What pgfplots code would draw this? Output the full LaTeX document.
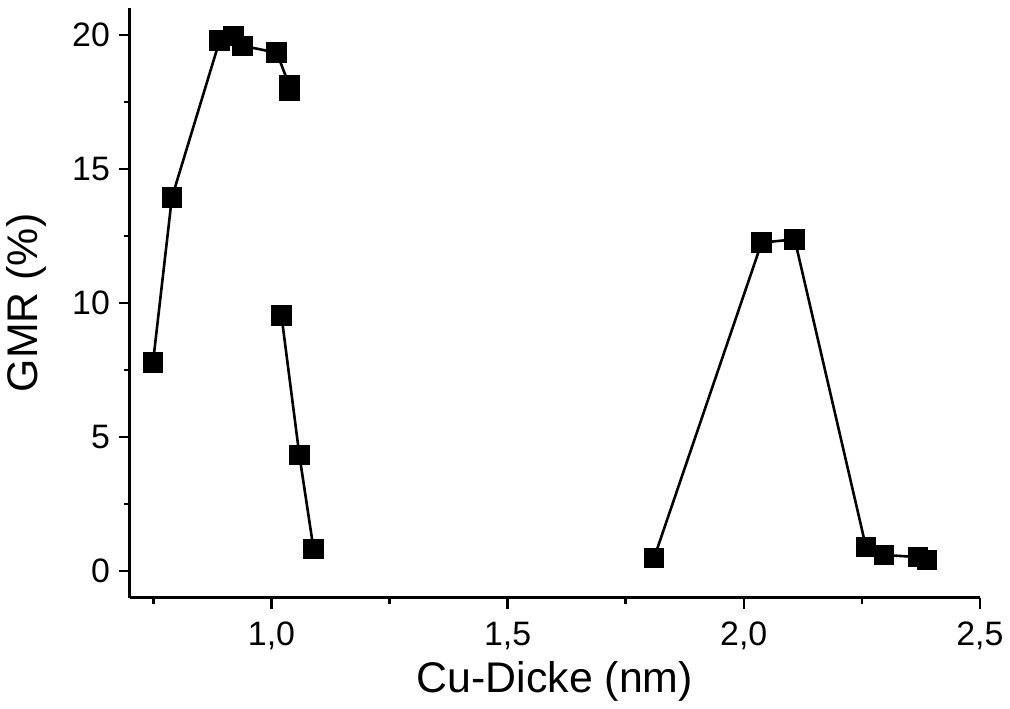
\documentclass[border=0pt]{standalone}
\usepackage{fontspec}
\setmainfont{Liberation Sans}
\usepackage{pgfplots}
\pgfplotsset{compat=1.18}

\begin{document}
\begin{tikzpicture}
\begin{axis}[
    scale only axis,
    width=426.5pt,
    height=296pt,
    xmin=0.7, xmax=2.5,
    ymin=-1, ymax=21,
    axis x line=bottom,
    axis y line=left,
    axis line style={-, line width=1.5pt},
    tick align=outside,
    major tick length=5.5pt,
    minor tick length=3pt,
    every tick/.style={black, line width=1.2pt},
    xtick={1,1.5,2,2.5},
    xticklabels={{1,0},{1,5},{2,0},{2,5}},
    minor xtick={0.75,1.25,1.75,2.25},
    ytick={0,5,10,15,20},
    minor ytick={2.5,7.5,12.5,17.5},
    /pgf/number format/assume math mode=true,
    ticklabel style={font=\fontsize{17}{19}\selectfont},
    xticklabel style={yshift=-3pt},
    yticklabel style={xshift=-1pt},
    label style={font=\fontsize{21.5}{24}\selectfont},
    xlabel={Cu-Dicke (nm)},
    ylabel={GMR (\%)},
    xlabel style={yshift=1pt},
    ylabel style={yshift=6pt},
    clip=false,
]
\addplot[black, line width=1.3pt, mark=square*, mark size=4.5pt, mark options={solid}]
coordinates {(0.749,7.78) (0.789,13.93) (0.890,19.78) (0.920,19.96) (0.939,19.59) (1.011,19.33) (1.038,18.10) (1.038,17.90)};
\addplot[black, line width=1.3pt, mark=square*, mark size=4.5pt, mark options={solid}]
coordinates {(1.021,9.53) (1.059,4.32) (1.089,0.82)};
\addplot[black, line width=1.3pt, mark=square*, mark size=4.5pt, mark options={solid}]
coordinates {(1.810,0.48) (2.038,12.25) (2.108,12.37) (2.259,0.89) (2.297,0.60) (2.369,0.52) (2.388,0.41)};
\end{axis}
% a little white room above the axis, as in the original
\path (current axis.north west) ++(0,4pt);
\end{tikzpicture}
\end{document}
